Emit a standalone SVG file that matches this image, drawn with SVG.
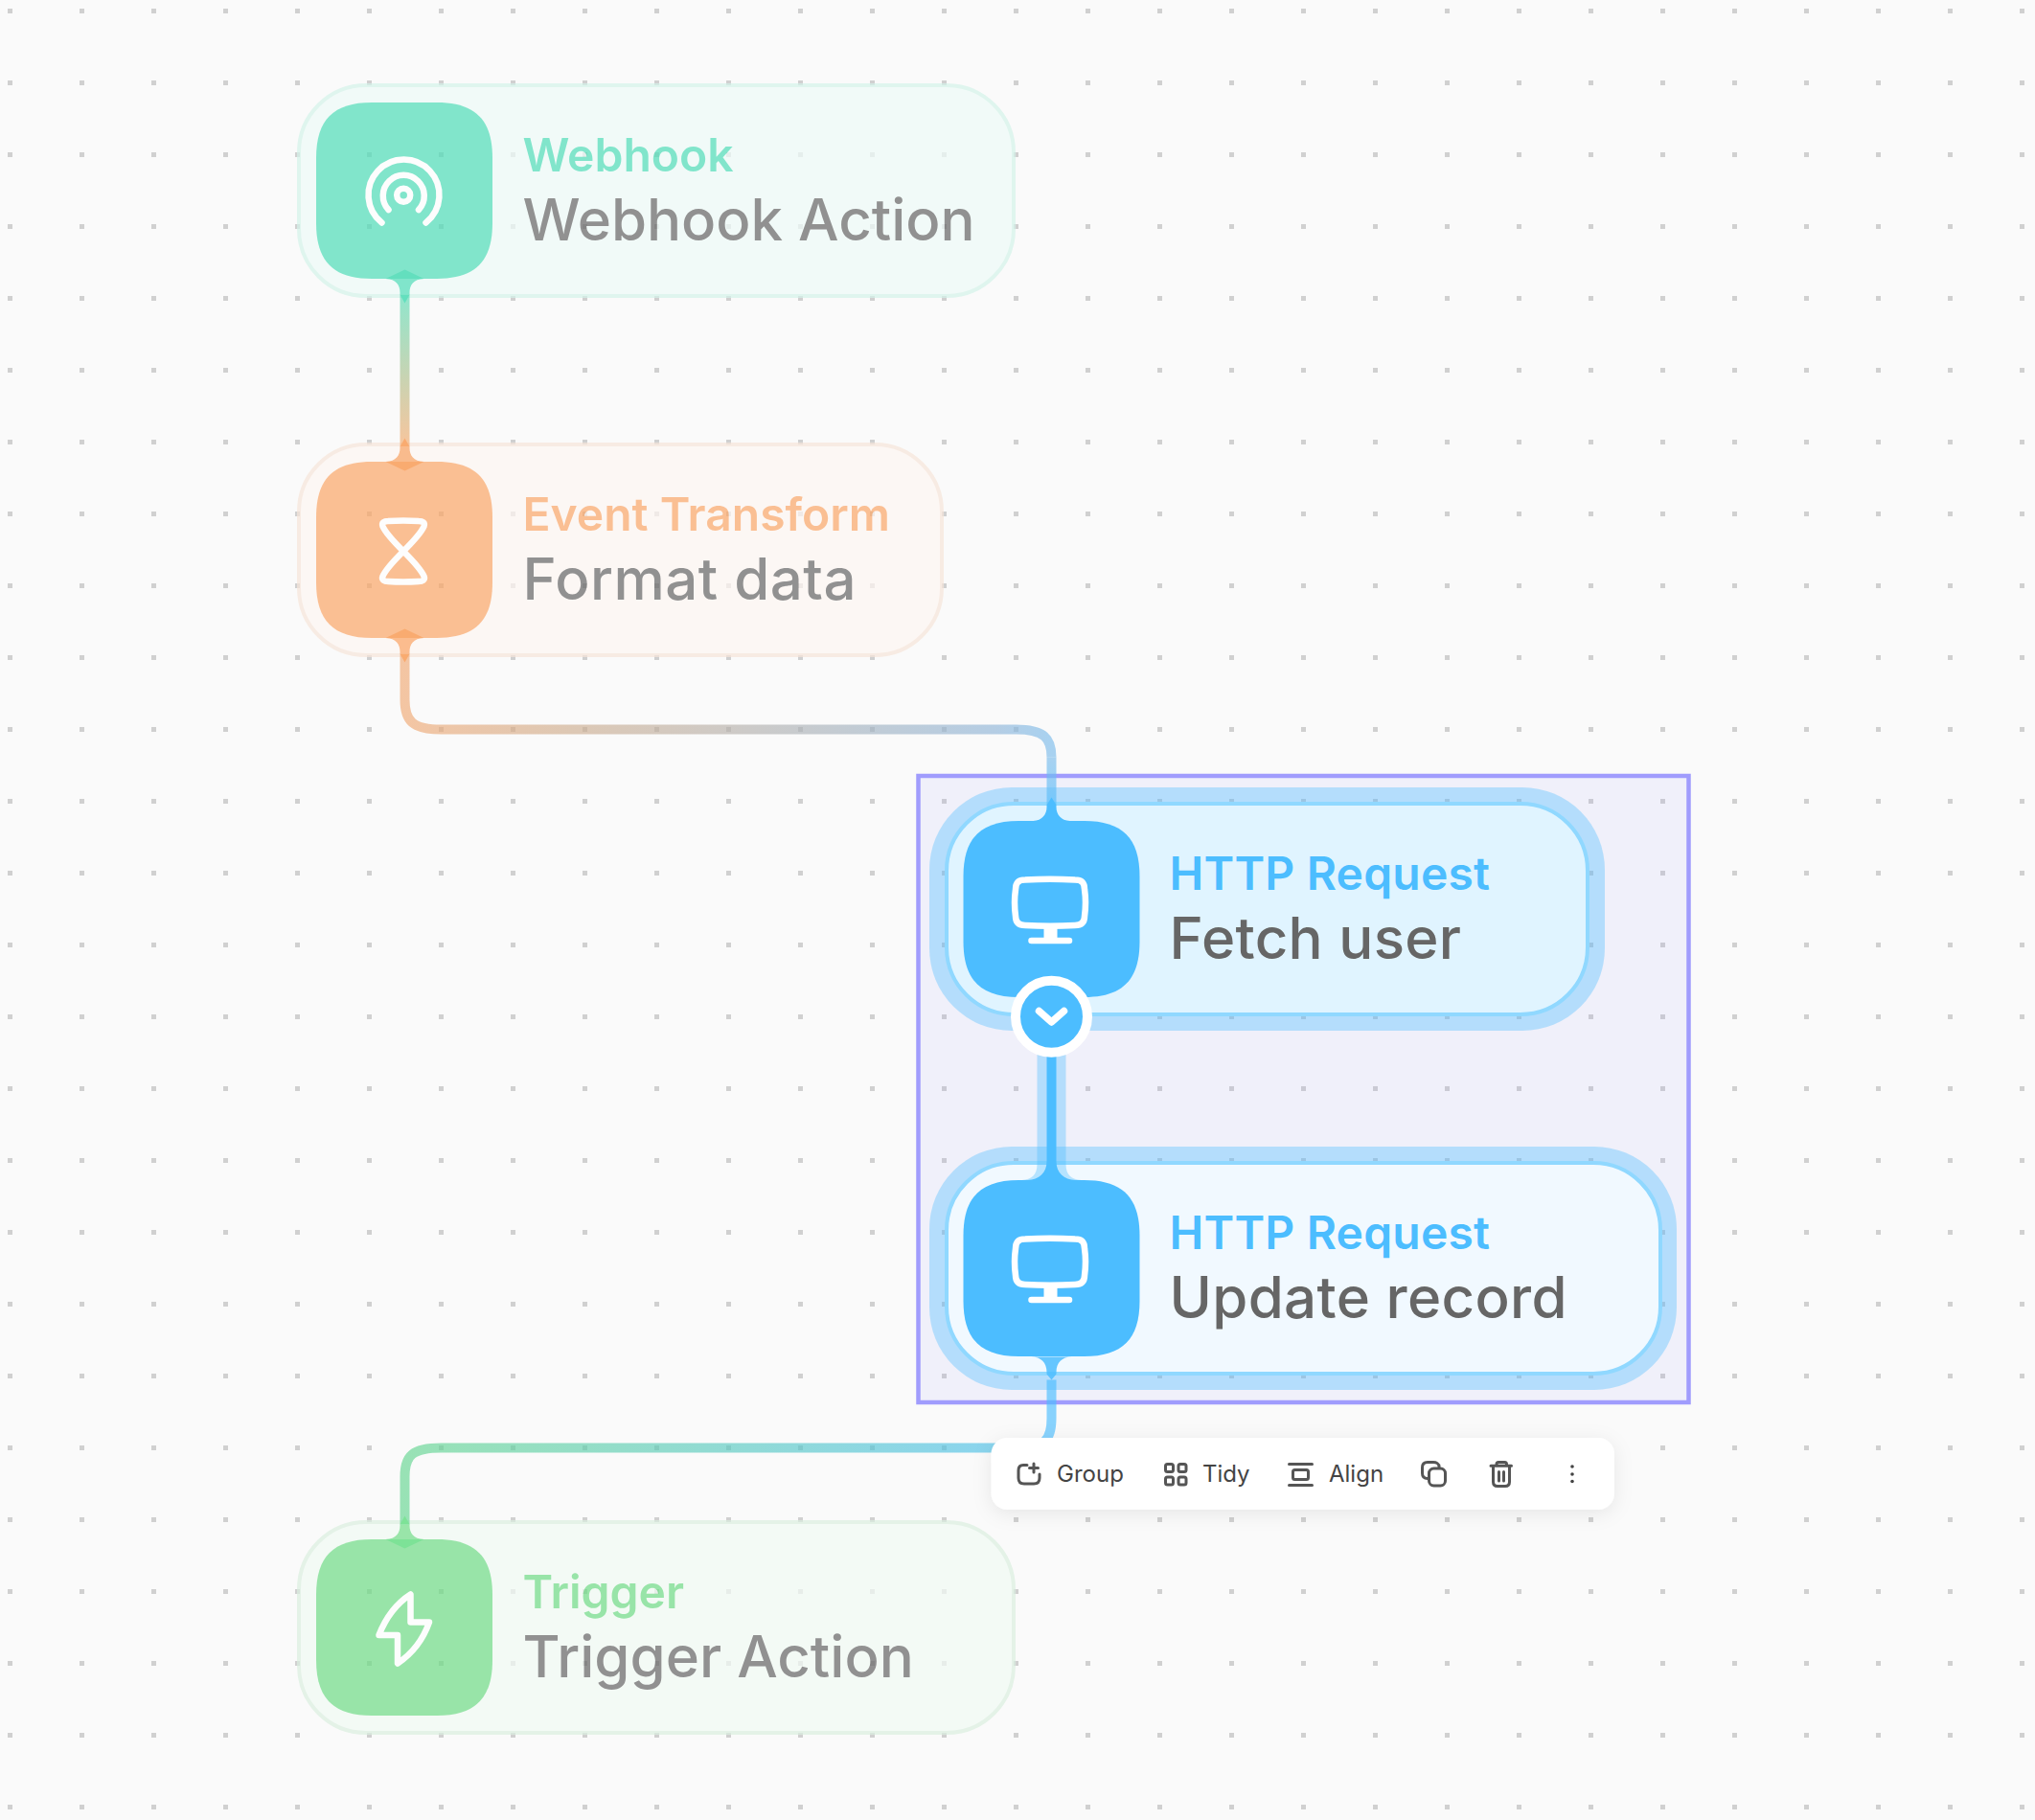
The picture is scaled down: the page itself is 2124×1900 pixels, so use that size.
<svg xmlns="http://www.w3.org/2000/svg" width="2124" height="1900" viewBox="0 0 2124 1900">
<defs>
<style>
text{font-family:Inter,"Noto Sans","Liberation Sans",sans-serif}
.label{font-size:48px;font-weight:600}
.sub{font-size:60px;font-weight:500;fill:#666}
.tb{font-size:24px;fill:#444}
.ico{fill:none;stroke:#fff;stroke-width:6.500;stroke-linecap:round;stroke-linejoin:round}
.tbi{fill:none;stroke:#555;stroke-width:3;stroke-linecap:round;stroke-linejoin:round}
.wire{fill:none;stroke-width:10;stroke-opacity:.65}
.card{stroke-width:4}
</style>
<pattern id="dots" x="0" y="0" width="75" height="75" patternUnits="userSpaceOnUse"><rect x="8" y="9" width="5" height="5" fill="#d0d0d0"/></pattern>
<path id="sq" d="M58 0H126C166 0 184 18 184 58V126C184 166 166 184 126 184H58C18 184 0 166 0 126V58C0 18 18 0 58 0Z"/>
<g id="monitor"><path class="ico" d="M1070 918Q1096 916.500 1122 918C1129 918 1132 921 1132 928Q1134 941.500 1132 956C1132 962 1129 965.500 1122 965.500Q1096 967 1070 965.500C1063 965.500 1060 962 1060 956Q1058 941.500 1060 928C1060 921 1063 918 1070 918Z"/><rect x="1089.500" y="967" width="14" height="13" fill="#fff"/><path class="ico" d="M1076.500 981.500H1116"/></g>
<linearGradient id="g1" gradientUnits="userSpaceOnUse" x1="0" y1="300" x2="0" y2="470"><stop offset="0" stop-color="#4fddb8"/><stop offset="1" stop-color="#fba768"/></linearGradient>
<linearGradient id="g2" gradientUnits="userSpaceOnUse" x1="422" y1="0" x2="1097" y2="0"><stop offset="0" stop-color="#f0a974"/><stop offset=".26" stop-color="#cdad8f"/><stop offset=".915" stop-color="#8fb5d8"/><stop offset="1" stop-color="#7cbceb"/></linearGradient>
<linearGradient id="g2b" gradientUnits="userSpaceOnUse" x1="0" y1="790" x2="0" y2="850"><stop offset="0" stop-color="#7cbceb"/><stop offset="1" stop-color="#4cbdff"/></linearGradient>
<linearGradient id="g4" gradientUnits="userSpaceOnUse" x1="422" y1="0" x2="1097" y2="0"><stop offset="0" stop-color="#64d590"/><stop offset="1" stop-color="#4cbef0"/></linearGradient>
<filter id="shadow" x="-10%" y="-40%" width="120%" height="190%"><feDropShadow dx="0" dy="4" stdDeviation="10" flood-color="#000" flood-opacity=".08"/></filter>
</defs>
<rect width="2124" height="1900" fill="#fafafa"/>
<rect width="2124" height="1900" fill="url(#dots)"/>
<rect id="selection" x="958.500" y="810" width="804" height="654" fill="#9b9bff" fill-opacity=".1" stroke="#a09cfd" stroke-width="4.500"/>

<g id="node-webhook" opacity=".7" transform="translate(0 .5)">
<rect class="card" x="312" y="88.500" width="746" height="220" rx="70" fill="#eefbf8" stroke="#d5f3ea"/>
<use href="#sq" x="330" y="106.500" fill="#4fddb8"/>
<g class="ico"><path d="M398.500 232A37 37 0 1 1 444.500 232"/><path d="M405.500 218.500A21.500 21.500 0 1 1 437 218.500"/><circle cx="421.200" cy="203.300" r="7"/></g>
<text class="label" x="545.500" y="178" fill="#4fddb8">Webhook</text>
<text class="sub" x="545.500" y="250.500">Webhook Action</text>
</g>

<g id="node-event" opacity=".7" transform="translate(0 .5)">
<rect class="card" x="312" y="463.500" width="671" height="220" rx="70" fill="#fef6f2" stroke="#f7e6da"/>
<use href="#sq" x="330" y="481.500" fill="#fba768"/>
<path class="ico" d="M421 575C412 566 403 557 399.500 549C398 545 401 543.500 405 543.500Q421 542.500 437 543.500C441 543.500 444 545 442.500 549C439 557 430 566 421 575C412 584 403 593 399.500 601C398 605 401 606.500 405 606.500Q421 607.500 437 606.500C441 606.500 444 605 442.500 601C439 593 430 584 421 575Z"/>
<text class="label" x="545.500" y="553" fill="#fba768">Event Transform</text>
<text class="sub" x="545.500" y="625.500" letter-spacing=".5">Format data</text>
</g>

<g id="node-fetch" transform="translate(0 .5)">
<rect x="970" y="821.500" width="705" height="254" rx="86" fill="#4cbdff" fill-opacity=".36"/>
<rect class="card" x="988" y="838.500" width="669" height="220" rx="70" fill="#e0f4ff" stroke="#90d8ff"/>
<use href="#sq" x="1005.500" y="856.500" fill="#4cbdff"/>
<use href="#monitor"/>
<text class="label" x="1220.500" y="928" fill="#4cbdff" letter-spacing=".2">HTTP Request</text>
<text class="sub" x="1220.500" y="1000.500" letter-spacing=".3">Fetch user</text>
</g>

<g id="node-update" transform="translate(0 .5)">
<rect x="970" y="1196.500" width="780" height="254" rx="86" fill="#4cbdff" fill-opacity=".36"/>
<rect class="card" x="988" y="1213.500" width="745" height="220" rx="70" fill="#f1f9ff" stroke="#90d8ff"/>
<use href="#sq" x="1005.500" y="1231.500" fill="#4cbdff"/>
<use href="#monitor" y="375"/>
<text class="label" x="1220.500" y="1303" fill="#4cbdff" letter-spacing=".2">HTTP Request</text>
<text class="sub" x="1220.500" y="1375.500" letter-spacing=".33">Update record</text>
</g>

<g id="node-trigger" opacity=".7" transform="translate(0 .5)">
<rect class="card" x="312" y="1588.500" width="746" height="220" rx="70" fill="#f1faf4" stroke="#dbefe0"/>
<use href="#sq" x="330" y="1606.500" fill="#6fdc86"/>
<path class="ico" d="M428.500 1664V1693H448C442 1710 430 1726 415 1736V1706.500H395.500C402 1690 413 1674 428.500 1664Z"/>
<text class="label" x="545.500" y="1678" fill="#6fdc86">Trigger</text>
<text class="sub" x="545.500" y="1750.500">Trigger Action</text>
</g>

<g id="connectors" transform="translate(.5 .5)">
<path class="wire" stroke="url(#g1)" d="M422 307V466"/>
<path fill="#80e5cb" d="M402 290.500H442C431 291 427 297 427 305V307H417V305C417 297 413 291 402 290.500Z"/>
<path fill="#63dfbe" d="M422 281L442 290.500H402ZM417 307H427L422 316Z"/>
<path fill="#f9bb8d" d="M402 481.500H442C431 481 427 475 427 467V466H417V467C417 475 413 481 402 481.500Z"/>
<path fill="#f9ab70" d="M402 481.500H442L422 491ZM417 466L422 457L427 466Z"/>

<path class="wire" stroke="url(#g2)" d="M422 682V730C422 752 430 761 460 761H1060C1089 761 1097 770 1097 790"/>
<path class="wire" stroke="url(#g2b)" d="M1097 790V840"/>
<path fill="#fbbc8e" d="M402 665.500H442C431 666 427 672 427 680V682H417V680C417 672 413 666 402 665.500Z"/>
<path fill="#f9ab70" d="M422 656L442 665.500H402ZM417 682H427L422 691Z"/>
<path fill="#4cbdff" d="M1078 856.500H1116C1107 856 1102 850 1102 842V840L1097 832L1092 840V842C1092 850 1087 856 1078 856.500Z"/>

<path fill="#4cbdff" fill-opacity=".36" d="M1082 1076V1215C1082 1226 1076 1231 1066 1231.500H1128C1118 1231 1112 1226 1112 1215V1076Z"/>
<path fill="#4cbdff" d="M1092 1050H1102V1212C1102 1224 1110 1231 1122 1231.500H1072C1084 1231 1092 1224 1092 1212Z"/>

<path class="wire" stroke="#4cbdff" d="M1097 1440V1480C1097 1503 1090 1511 1060 1511"/>
<path class="wire" stroke="url(#g4)" d="M1060 1511H460C430 1511 422 1519 422 1541V1591"/>
<path fill="#4cbdff" fill-opacity=".85" d="M1076 1416H1118C1108 1416 1102 1422 1102 1432V1434L1097 1440L1092 1434V1432C1092 1422 1086 1416 1076 1416Z"/>
<path fill="#99e5a9" d="M402 1606.500H442C431 1606 427 1600 427 1592V1591H417V1592C417 1600 413 1606 402 1606.500Z"/>
<path fill="#7de297" d="M402 1606.500H442L422 1616ZM417 1591L422 1582L427 1591Z"/>
</g>

<g id="chevron-button" transform="translate(0 .5)">
<circle cx="1097.500" cy="1060.700" r="37.500" fill="#4cbdff" stroke="#fff" stroke-width="10"/>
<path d="M1084.500 1055L1097.500 1066.500L1110.500 1055" fill="none" stroke="#fff" stroke-width="7.500" stroke-linecap="round" stroke-linejoin="round"/>
</g>

<g id="toolbar" transform="translate(0 1)">
<rect x="1034.500" y="1500" width="650.500" height="75" rx="17" fill="#fff" filter="url(#shadow)"/>
<g class="tbi">
<path d="M1072 1528.500H1068C1064 1528.500 1063 1531 1063 1534V1542C1063 1546 1065 1548 1069 1548H1079C1083 1548 1085 1546 1085 1542V1538M1079 1527V1536M1074.500 1531.500H1083.500"/>
<rect x="1216.500" y="1527.500" width="8" height="8" rx="2"/><rect x="1230" y="1527.500" width="8" height="8" rx="2"/><rect x="1216.500" y="1541" width="8" height="8" rx="2"/><rect x="1230" y="1541" width="8" height="8" rx="2"/>
<path d="M1345.500 1527.500H1369.500M1345.500 1549.500H1369.500"/><rect x="1349.500" y="1533.500" width="16" height="10" rx="2"/>
<path d="M1502 1531V1530C1502 1527 1499 1525.500 1496 1525.500H1490C1486 1525.500 1484.500 1528 1484.500 1531V1537C1484.500 1540 1486 1542.500 1490 1542.500H1491"/><rect x="1491.500" y="1532" width="17" height="18" rx="5"/>
<path d="M1556 1529.300H1577.500M1562 1529V1527.500C1562 1526 1563 1525.500 1564 1525.500H1570.500C1571.500 1525.500 1572.500 1526 1572.500 1527.500V1529M1558.500 1530V1546C1558.500 1549.500 1560.500 1550.500 1563 1550.500H1571C1573.500 1550.500 1575.500 1549.500 1575.500 1546V1530M1564.500 1535.500V1545M1569.500 1535.500V1545"/>
</g>
<circle cx="1641" cy="1530" r="1.800" fill="#444"/><circle cx="1641" cy="1538" r="1.800" fill="#444"/><circle cx="1641" cy="1545.500" r="1.800" fill="#444"/>
<text class="tb" x="1103" y="1545.500">Group</text>
<text class="tb" x="1255" y="1545.500">Tidy</text>
<text class="tb" x="1387" y="1545.500">Align</text>
</g>
</svg>
